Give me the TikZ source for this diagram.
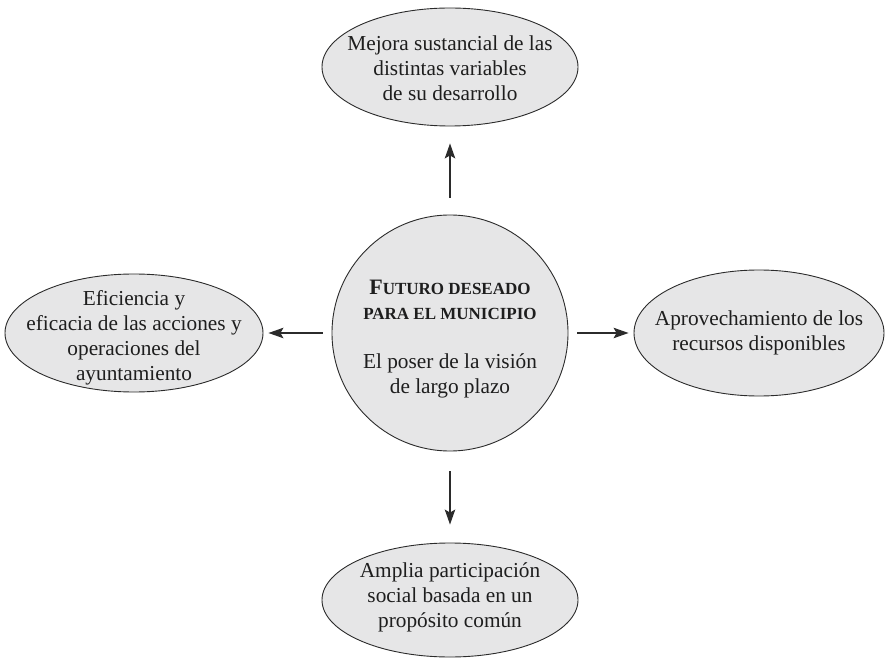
\documentclass[tikz,border=0pt]{standalone}
\usepackage{fontspec}
\setmainfont{Liberation Serif}
\usetikzlibrary{shapes.geometric,arrows.meta}
\definecolor{bubblefill}{HTML}{E6E6E7}
\definecolor{inkline}{HTML}{2B2B2B}
\definecolor{inktext}{HTML}{1E1E1E}
\begin{document}
\begin{tikzpicture}[x=1pt,y=-1pt,
  bubble/.style={ellipse, draw=inkline, line width=0.9pt, fill=bubblefill, inner sep=0pt},
  hubstyle/.style={circle, draw=inkline, line width=0.9pt, fill=bubblefill,
    minimum size=236pt, inner sep=0pt},
  btext/.style={align=center, text=inktext, inner sep=0pt,
    font=\fontsize{21.3}{25}\selectfont},
  titletext/.style={align=center, text=inktext, inner sep=0pt,
    font=\bfseries\fontsize{17}{25}\selectfont},
  arr/.style={-{Stealth[length=15pt,width=10.5pt,inset=3pt]}, draw=inkline, line width=1.2pt}
]
\useasboundingbox (0,0) rectangle (886,660);

% central circle and the four surrounding ellipses
\node[hubstyle] (hub) at (450,333) {};
\node[bubble, minimum width=256pt, minimum height=118pt] (up) at (450,67) {};
\node[bubble, minimum width=258pt, minimum height=118pt] (west) at (134,333) {};
\node[bubble, minimum width=250pt, minimum height=126pt] (east) at (759,333) {};
\node[bubble, minimum width=256pt, minimum height=114pt] (down) at (450,600) {};

% texts
\node[titletext] (hubtitle) at (450,300)
  {{\fontsize{22}{25}\selectfont F}UTURO DESEADO\\PARA EL MUNICIPIO};
\node[btext] (hubtext) at (450,376) {El poser de la visión\\de largo plazo};
\node[btext] (uptext) at (450,68) {Mejora sustancial de las\\distintas variables\\de su desarrollo};
\node[btext] (westtext) at (134,338) {Eficiencia y\\eficacia de las acciones y\\operaciones del\\ayuntamiento};
\node[btext] (easttext) at (759,333) {Aprovechamiento de los\\recursos disponibles};
\node[btext] (downtext) at (450,597) {Amplia participación\\social basada en un\\propósito común};

% arrows from the centre outwards
\draw[arr, shorten <=17pt, shorten >=17pt] (hub) -- (up);
\draw[arr, shorten <=9pt, shorten >=5pt] (hub) -- (west);
\draw[arr, shorten <=9pt, shorten >=5pt] (hub) -- (east);
\draw[arr, shorten <=20pt, shorten >=18pt] (hub) -- (down);
\end{tikzpicture}
\end{document}
